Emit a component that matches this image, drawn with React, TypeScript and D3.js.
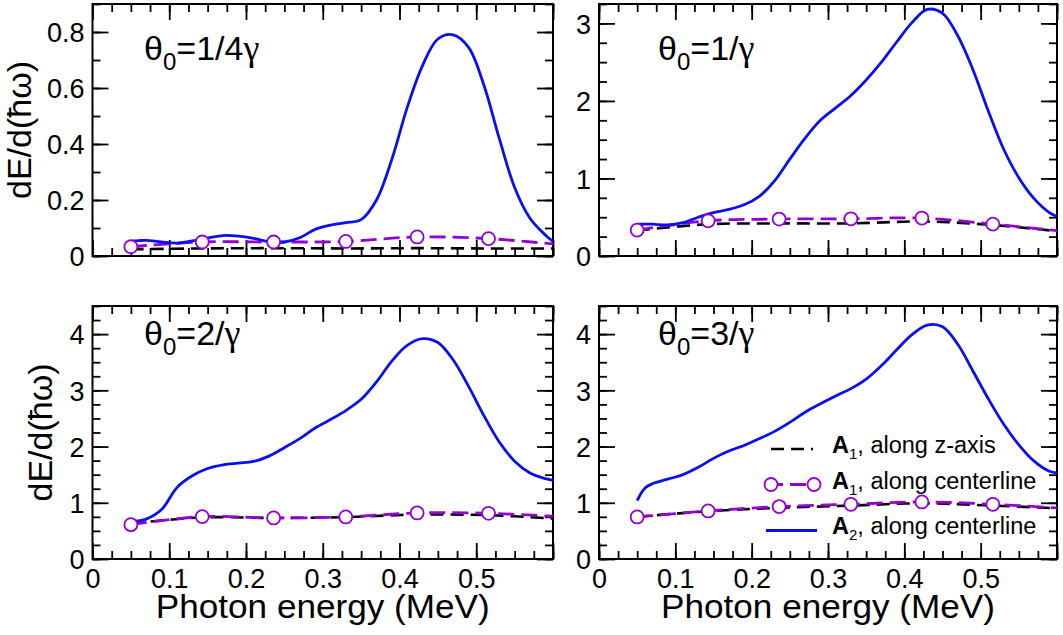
import React, { useRef, useEffect } from "react";
import * as d3 from "d3";

// photon energy grid (MeV) for the A2 curves
const energyA2 = [
  0.05, 0.06, 0.07, 0.09, 0.11, 0.13, 0.15, 0.17, 0.19, 0.21, 0.23, 0.25, 0.27,
  0.29, 0.31, 0.33, 0.35, 0.37, 0.39, 0.41, 0.43, 0.45, 0.47, 0.49, 0.51, 0.53,
  0.55, 0.57, 0.59, 0.6,
];
// photon energy grid (MeV) for the A1 curves (circles on all but the last)
const energyA1 = [0.05, 0.143, 0.236, 0.33, 0.423, 0.516, 0.6];

// theta0 = 1/4 gamma
const a2Quarter = [
  0.053, 0.055, 0.056, 0.05, 0.046, 0.054, 0.064, 0.073, 0.071, 0.063, 0.051,
  0.05, 0.065, 0.095, 0.11, 0.119, 0.13, 0.2, 0.345, 0.53, 0.68, 0.775, 0.79,
  0.745, 0.61, 0.42, 0.245, 0.135, 0.075, 0.052,
];
const a1CenterQuarter = [0.033, 0.05, 0.05, 0.052, 0.068, 0.062, 0.043];
const a1AxisQuarter = [0.024, 0.027, 0.028, 0.027, 0.028, 0.027, 0.027];

// theta0 = 1/gamma
const a2One = [
  0.41, 0.41, 0.41, 0.4, 0.43, 0.5, 0.56, 0.6, 0.66, 0.77, 0.97, 1.25, 1.52,
  1.75, 1.91, 2.07, 2.27, 2.5, 2.76, 3.01, 3.18, 3.13, 2.84, 2.4, 1.87, 1.38,
  1.01, 0.74, 0.56, 0.51,
];
const a1CenterOne = [0.334, 0.454, 0.476, 0.48, 0.489, 0.411, 0.326];
const a1AxisOne = [0.33, 0.41, 0.42, 0.42, 0.445, 0.4, 0.32];

// theta0 = 2/gamma
const a2Two = [
  0.67, 0.68, 0.71, 0.88, 1.27, 1.48, 1.61, 1.675, 1.705, 1.735, 1.83, 1.98,
  2.14, 2.33, 2.48, 2.64, 2.84, 3.15, 3.52, 3.8, 3.92, 3.85, 3.54, 3.07, 2.55,
  2.08, 1.74, 1.53, 1.43, 1.4,
];
const a1CenterTwo = [0.611, 0.754, 0.73, 0.748, 0.819, 0.813, 0.76];
const a1AxisTwo = [0.63, 0.74, 0.73, 0.745, 0.79, 0.78, 0.72];

// theta0 = 3/gamma
const a2Three = [
  1.04, 1.26, 1.34, 1.42, 1.5, 1.63, 1.79, 1.92, 2.02, 2.14, 2.27, 2.43, 2.61,
  2.76, 2.9, 3.03, 3.2, 3.44, 3.72, 3.99, 4.16, 4.13, 3.82, 3.34, 2.85, 2.4,
  2.03, 1.74, 1.56, 1.53,
];
const a1CenterThree = [0.748, 0.855, 0.932, 0.973, 1.015, 0.973, 0.908];
const a1AxisThree = [0.75, 0.85, 0.91, 0.95, 0.99, 0.95, 0.9];

// tick labels
const xTickLabels = ["0", "0.1", "0.2", "0.3", "0.4", "0.5"];
const yTickLabelsQuarter = ["0", "0.2", "0.4", "0.6", "0.8"];
const yTickLabelsOne = ["0", "1", "2", "3"];
const yTickLabelsBig = ["0", "1", "2", "3", "4"];

const legendLabels = [", along z-axis", ", along centerline", ", along centerline"];
const legendSubs = ["1", "1", "2"];

const FONT = "'Liberation Sans', Arial, Helvetica, sans-serif";
const GREEK = "'Liberation Serif', 'Times New Roman', serif";
const BLUE = "#0a0ff0";
const PURPLE = "#9400d3";

const W = 1063;
const H = 635;
const X_MAX = 0.6;

const panels = [
  {
    a2: a2Quarter, a1c: a1CenterQuarter, a1z: a1AxisQuarter,
    yMax: 0.9, yMajor: 0.2, yMinor: 0.1, yLabels: yTickLabelsQuarter,
    left: 92.5, right: 553, top: 4, bottom: 256,
    label: "=1/4", labelPos: [144, 60], xLabels: false, title: [31, 130],
  },
  {
    a2: a2One, a1c: a1CenterOne, a1z: a1AxisOne,
    yMax: 3.25, yMajor: 1, yMinor: 0.25, yLabels: yTickLabelsOne,
    left: 599, right: 1057, top: 4, bottom: 256,
    label: "=1/", labelPos: [658, 60], xLabels: false, title: null,
  },
  {
    a2: a2Two, a1c: a1CenterTwo, a1z: a1AxisTwo,
    yMax: 4.5, yMajor: 1, yMinor: 0.25, yLabels: yTickLabelsBig,
    left: 92.5, right: 553, top: 306, bottom: 559,
    label: "=2/", labelPos: [144, 345], xLabels: true, title: [52, 432.5],
  },
  {
    a2: a2Three, a1c: a1CenterThree, a1z: a1AxisThree,
    yMax: 4.5, yMajor: 1, yMinor: 0.25, yLabels: yTickLabelsBig,
    left: 599, right: 1057, top: 306, bottom: 559,
    label: "=3/", labelPos: [658, 345], xLabels: true, title: null,
  },
];

const MAJOR = 16;
const MINOR = 8;

const App: React.FC = () => {
  const svgRef = useRef<SVGSVGElement>(null);

  useEffect(() => {
    const svg = d3.select(svgRef.current);
    svg.selectAll("*").remove();

    const styleTicks = (g: d3.Selection<SVGGElement, unknown, null, undefined>) => {
      g.select(".domain").remove();
      g.selectAll("line").attr("stroke", "#000").attr("stroke-width", 1.8);
      g.selectAll("text").remove();
    };

    panels.forEach((p) => {
      const x = d3.scaleLinear().domain([0, X_MAX]).range([p.left, p.right]);
      const y = d3.scaleLinear().domain([0, p.yMax]).range([p.bottom, p.top]);
      const g = svg.append("g");

      const xMajor = d3.range(0, X_MAX + 1e-6, 0.1);
      const xMinor = d3.range(0, X_MAX + 1e-6, 0.025);
      const yMajor = d3.range(0, p.yMax + 1e-6, p.yMajor);
      const yMinor = d3.range(0, p.yMax + 1e-6, p.yMinor);

      // inward ticks on all four sides
      const tickSets: [any, number, number[], number][] = [
        [d3.axisBottom(x), p.bottom, xMinor, MINOR],
        [d3.axisBottom(x), p.bottom, xMajor, MAJOR],
        [d3.axisTop(x), p.top, xMinor, MINOR],
        [d3.axisTop(x), p.top, xMajor, MAJOR],
      ];
      tickSets.forEach(([axis, pos, vals, len]) => {
        g.append("g")
          .attr("transform", `translate(0,${pos})`)
          .call(axis.tickValues(vals).tickSize(-len))
          .call(styleTicks);
      });
      const yTickSets: [any, number, number[], number][] = [
        [d3.axisLeft(y), p.left, yMinor, MINOR],
        [d3.axisLeft(y), p.left, yMajor, MAJOR],
        [d3.axisRight(y), p.right, yMinor, MINOR],
        [d3.axisRight(y), p.right, yMajor, MAJOR],
      ];
      yTickSets.forEach(([axis, pos, vals, len]) => {
        g.append("g")
          .attr("transform", `translate(${pos},0)`)
          .call(axis.tickValues(vals).tickSize(-len))
          .call(styleTicks);
      });

      // y tick labels
      const yLab = g
        .append("g")
        .attr("transform", `translate(${p.left},0)`)
        .call(
          d3
            .axisLeft(y)
            .tickValues(p.yLabels.map(Number))
            .tickFormat((_, i) => p.yLabels[i])
            .tickSize(0)
            .tickPadding(8)
        );
      yLab.select(".domain").remove();
      yLab.attr("font-family", FONT).attr("font-size", 27);
      yLab.selectAll("text").attr("fill", "#000").attr("dy", "0.36em");

      // x tick labels
      if (p.xLabels) {
        const xLab = g
          .append("g")
          .attr("transform", `translate(0,${p.bottom})`)
          .call(
            d3
              .axisBottom(x)
              .tickValues(xTickLabels.map(Number))
              .tickFormat((_, i) => xTickLabels[i])
              .tickSize(0)
              .tickPadding(10)
          );
        xLab.select(".domain").remove();
        xLab.attr("font-family", FONT).attr("font-size", 27);
        xLab.selectAll("text").attr("fill", "#000");

        g.append("text")
          .attr("x", (p.left + p.right) / 2)
          .attr("y", 618)
          .attr("text-anchor", "middle")
          .attr("font-family", FONT)
          .attr("font-size", 33)
          .attr("textLength", 334)
          .attr("lengthAdjust", "spacingAndGlyphs")
          .text("Photon energy (MeV)");
      }

      if (p.title) {
        g.append("text")
          .attr("transform", `translate(${p.title[0]},${p.title[1]}) rotate(-90)`)
          .attr("text-anchor", "middle")
          .attr("font-family", FONT)
          .attr("font-size", 33)
          .attr("textLength", 138)
          .attr("lengthAdjust", "spacingAndGlyphs")
          .text("dE/d(ħω)");
      }

      // frame
      g.append("rect")
        .attr("x", p.left)
        .attr("y", p.top)
        .attr("width", p.right - p.left)
        .attr("height", p.bottom - p.top)
        .attr("fill", "none")
        .attr("stroke", "#000")
        .attr("stroke-width", 2);

      const line = d3
        .line<[number, number]>()
        .x((d) => x(d[0]))
        .y((d) => y(d[1]))
        .curve(d3.curveCatmullRom.alpha(0.5));

      g.append("path")
        .attr("d", line(d3.zip(energyA1, p.a1z) as [number, number][]))
        .attr("fill", "none")
        .attr("stroke", "#000")
        .attr("stroke-width", 2.6)
        .attr("stroke-dasharray", "13,7");

      g.append("path")
        .attr("d", line(d3.zip(energyA1, p.a1c) as [number, number][]))
        .attr("fill", "none")
        .attr("stroke", PURPLE)
        .attr("stroke-width", 2.8)
        .attr("stroke-dasharray", "16,7");

      g.append("path")
        .attr("d", line(d3.zip(energyA2, p.a2) as [number, number][]))
        .attr("fill", "none")
        .attr("stroke", BLUE)
        .attr("stroke-width", 2.8);

      g.selectAll(".mark")
        .data(d3.zip(energyA1, p.a1c).slice(0, energyA1.length - 1))
        .enter()
        .append("circle")
        .attr("cx", (d) => x(d[0]))
        .attr("cy", (d) => y(d[1]))
        .attr("r", 6.5)
        .attr("fill", "#fff")
        .attr("stroke", PURPLE)
        .attr("stroke-width", 1.8);

      // panel label theta_0 = ...
      const t = g
        .append("text")
        .attr("x", p.labelPos[0])
        .attr("y", p.labelPos[1])
        .attr("font-family", FONT)
        .attr("font-size", 34);
      t.append("tspan").text("θ");
      t.append("tspan").attr("dy", 10).attr("font-size", 24).text("0");
      t.append("tspan").attr("dy", -10).text(p.label);
      t.append("tspan").attr("font-family", GREEK).attr("font-size", 36).text("γ");
    });

    // legend (bottom-right panel)
    const leg = svg.append("g");
    const rowsLine = [449, 484.5, 530.5];
    const rowsText = [453, 489, 534];

    leg.append("line")
      .attr("x1", 771).attr("x2", 813)
      .attr("y1", rowsLine[0]).attr("y2", rowsLine[0])
      .attr("stroke", "#000").attr("stroke-width", 2.6)
      .attr("stroke-dasharray", "13,7");

    leg.append("line")
      .attr("x1", 771).attr("x2", 814)
      .attr("y1", rowsLine[1]).attr("y2", rowsLine[1])
      .attr("stroke", PURPLE).attr("stroke-width", 2.8)
      .attr("stroke-dasharray", "16,7")
      .attr("stroke-dashoffset", 4);
    [771, 814].forEach((cx) => {
      leg.append("circle")
        .attr("cx", cx).attr("cy", rowsLine[1]).attr("r", 6.5)
        .attr("fill", "#fff").attr("stroke", PURPLE).attr("stroke-width", 1.8);
    });

    leg.append("line")
      .attr("x1", 766).attr("x2", 817)
      .attr("y1", rowsLine[2]).attr("y2", rowsLine[2])
      .attr("stroke", BLUE).attr("stroke-width", 2.8);

    legendLabels.forEach((lab, i) => {
      const t = leg
        .append("text")
        .attr("x", 832)
        .attr("y", rowsText[i])
        .attr("font-family", FONT)
        .attr("font-size", 23.5);
      t.append("tspan").attr("font-weight", "bold").text("A");
      t.append("tspan").attr("dy", 6).attr("font-size", 15).text(legendSubs[i]);
      t.append("tspan").attr("dy", -6).text(lab);
    });
  }, []);

  return (
    <svg
      ref={svgRef}
      width={W}
      height={H}
      style={{ position: "absolute", left: 0, top: 0, background: "#fff" }}
    />
  );
};

export default App;
